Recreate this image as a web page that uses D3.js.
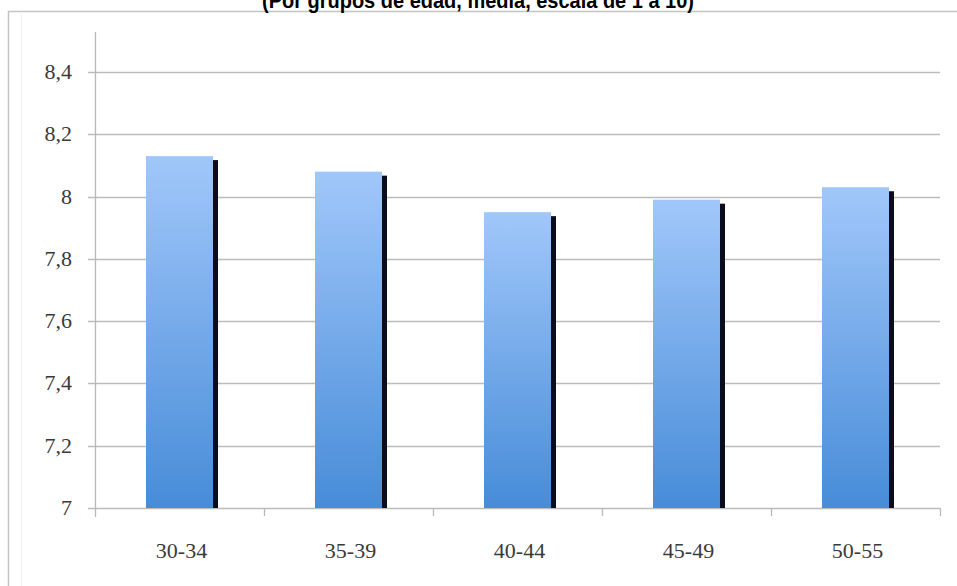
<!DOCTYPE html>
<html>
<head>
<meta charset="utf-8">
<script src="https://cdn.jsdelivr.net/npm/d3@7"></script>
<style>
html,body{margin:0;padding:0;background:#fff;overflow:hidden;}
svg{display:block;}
</style>
</head>
<body>
<script>
const title = "(Por grupos de edad, media, escala de 1 a 10)";
const categories = ["30-34", "35-39", "40-44", "45-49", "50-55"];
const values = [8.13, 8.08, 7.95, 7.99, 8.03];
const yTicks = [7, 7.2, 7.4, 7.6, 7.8, 8, 8.2, 8.4];

const SERIF = "Liberation Serif, DejaVu Serif, serif";
const W = 957, H = 586;
const svg = d3.select("body").append("svg").attr("width", W).attr("height", H);

const defs = svg.append("defs");
const grad = defs.append("linearGradient").attr("id", "barGrad")
  .attr("x1", 0).attr("y1", 0).attr("x2", 0).attr("y2", 1);
grad.append("stop").attr("offset", "0%").attr("stop-color", "#a1c7fa");
grad.append("stop").attr("offset", "100%").attr("stop-color", "#478cd8");

// frame
svg.append("rect").attr("x", 8.5).attr("y", 11.5).attr("width", 1000).attr("height", 1000)
  .attr("fill", "#fff").attr("stroke", "#c4c4c4").attr("stroke-width", 1.5);
svg.append("line").attr("x1", 21.5).attr("x2", 21.5).attr("y1", 14).attr("y2", 586)
  .attr("stroke", "#f0f0f0").attr("stroke-width", 1);

// title (partially clipped at top, as in the reference)
svg.append("text").attr("x", 478).attr("y", 8)
  .attr("text-anchor", "middle")
  .attr("textLength", 432).attr("lengthAdjust", "spacingAndGlyphs")
  .attr("font-family", "Liberation Sans, Arial, sans-serif")
  .attr("font-weight", "bold").attr("font-size", 22).attr("fill", "#000")
  .text(title);

const x0 = 95, x1 = 940, yTop = 72, yBot = 508;
const x = d3.scaleBand().domain(categories).range([x0, x1]).paddingInner(0.6).paddingOuter(0.3);
const y = d3.scaleLinear().domain([7, 8.4]).range([yBot, yTop]);

// gridlines
svg.append("g").selectAll("line").data(yTicks).join("line")
  .attr("x1", x0 - 7).attr("x2", x1)
  .attr("y1", d => Math.round(y(d)) + 0.5).attr("y2", d => Math.round(y(d)) + 0.5)
  .attr("stroke", "#bcbcbc").attr("stroke-width", 1.3);

// y axis line
svg.append("line").attr("x1", x0 + 0.5).attr("x2", x0 + 0.5).attr("y1", 32).attr("y2", yBot + 9)
  .attr("stroke", "#b8b8b8").attr("stroke-width", 1.3);

// x ticks at band boundaries
const step = (x1 - x0) / categories.length;
svg.append("g").selectAll("line").data(d3.range(1, categories.length + 1)).join("line")
  .attr("x1", i => Math.round(x0 + i * step) + 0.5).attr("x2", i => Math.round(x0 + i * step) + 0.5)
  .attr("y1", yBot).attr("y2", yBot + 8)
  .attr("stroke", "#b8b8b8").attr("stroke-width", 1.3);

// y labels
svg.append("g").selectAll("text").data(yTicks).join("text")
  .attr("font-family", SERIF)
  .attr("x", 72).attr("y", d => y(d) + 7)
  .attr("text-anchor", "end")
  .attr("font-size", 22).attr("fill", "#3a3a3a")
  .text(d => String(d).replace(".", ","));

// bars
const bw = 67;
const bars = svg.append("g").selectAll("g").data(categories).join("g");
bars.append("rect")
  .attr("x", d => x(d) + x.bandwidth() / 2 - bw / 2 + 5)
  .attr("y", (d, i) => y(values[i]) + 4)
  .attr("width", bw).attr("height", (d, i) => yBot - y(values[i]) - 4)
  .attr("fill", "#0b0d1c");
bars.append("rect")
  .attr("x", d => x(d) + x.bandwidth() / 2 - bw / 2)
  .attr("y", (d, i) => y(values[i]))
  .attr("width", bw).attr("height", (d, i) => yBot - y(values[i]))
  .attr("fill", "url(#barGrad)");

// x labels
svg.append("g").selectAll("text").data(categories).join("text")
  .attr("font-family", SERIF)
  .attr("x", d => x(d) + x.bandwidth() / 2 + 2).attr("y", 558)
  .attr("text-anchor", "middle")
  .attr("font-size", 22).attr("fill", "#3a3a3a")
  .text(d => d);
</script>
</body>
</html>
